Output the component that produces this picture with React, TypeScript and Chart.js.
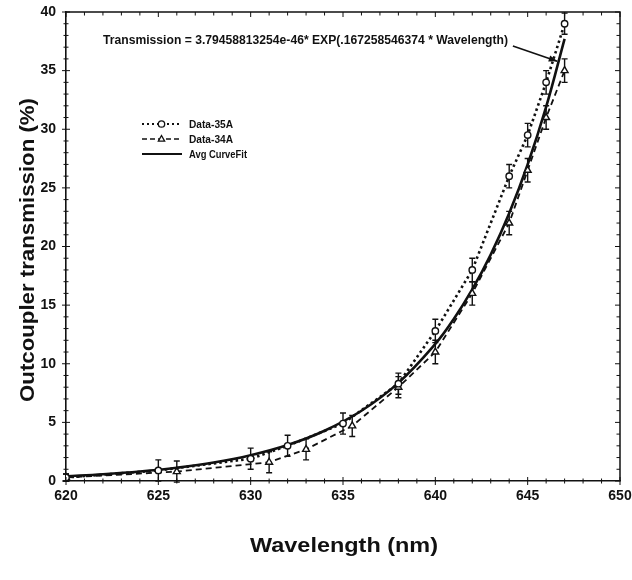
import React, { useEffect, useRef } from "react";
import { Chart, registerables } from "chart.js";
Chart.register(...registerables);

// Data-35A (circles, dotted)
const wl35 = [620, 625, 630, 632, 635, 638, 640, 642, 644, 645, 646, 647];
const val35 = [0.3, 0.9, 1.9, 3.0, 4.9, 8.3, 12.8, 18.0, 26.0, 29.5, 34.0, 39.0];
const err35 = [0.3, 0.9, 0.9, 0.9, 0.9, 0.9, 1.0, 1.0, 1.0, 1.0, 1.0, 0.9];
// Data-34A (triangles, dashed)
const wl34 = [620, 626, 631, 633, 635.5, 638, 640, 642, 644, 645, 646, 647];
const val34 = [0.3, 0.8, 1.6, 2.7, 4.7, 8.0, 11.0, 16.0, 22.0, 26.5, 31.0, 35.0];
const err34 = [0.3, 0.9, 0.9, 0.9, 0.9, 0.9, 1.0, 1.0, 1.0, 1.0, 1.0, 1.0];
// Avg CurveFit
const wlFit = [620, 622, 624, 626, 628, 630, 632, 634, 636, 638, 640, 641, 642, 643, 644, 645, 646, 647];
const valFit = [0.41, 0.58, 0.81, 1.13, 1.57, 2.2, 3.07, 4.29, 5.99, 8.37, 11.69, 13.82, 16.34, 19.31, 22.83, 26.99, 31.9, 37.71];

const xTicks = [620, 625, 630, 635, 640, 645, 650];
const yTicks = [0, 5, 10, 15, 20, 25, 30, 35, 40];

const seriesNames = ["Data-35A", "Data-34A", "Avg CurveFit"];
const equationText = "Transmission = 3.79458813254e-46* EXP(.167258546374 * Wavelength)";
const xTitle = "Wavelength (nm)";
const yTitle = "Outcoupler transmission (%)";

const FONT = "'Liberation Sans', Arial, sans-serif";

function fitText(ctx: CanvasRenderingContext2D, text: string, x: number, y: number, w: number) {
  const m = ctx.measureText(text).width;
  ctx.save();
  ctx.translate(x, y);
  ctx.scale(w / m, 1);
  ctx.textAlign = "left";
  ctx.fillText(text, 0, 0);
  ctx.restore();
}

function drawTriangle(ctx: CanvasRenderingContext2D, x: number, y: number, r: number) {
  ctx.beginPath();
  ctx.moveTo(x, y - r);
  ctx.lineTo(x + r * 0.9, y + r * 0.6);
  ctx.lineTo(x - r * 0.9, y + r * 0.6);
  ctx.closePath();
  ctx.fillStyle = "#fff";
  ctx.fill();
  ctx.stroke();
}

const extrasPlugin = {
  id: "extras",
  beforeDatasetsDraw(chart: any) {
    const ctx: CanvasRenderingContext2D = chart.ctx;
    const xs = chart.scales.x;
    const ys = chart.scales.y;
    ctx.save();
    ctx.strokeStyle = "#111";
    ctx.lineWidth = 1.4;
    const bars = (wl: number[], val: number[], err: number[]) => {
      wl.forEach((w, i) => {
        const px = xs.getPixelForValue(w);
        const y1 = ys.getPixelForValue(val[i] - err[i]);
        const y2 = ys.getPixelForValue(val[i] + err[i]);
        ctx.beginPath();
        ctx.moveTo(px, y1);
        ctx.lineTo(px, y2);
        ctx.moveTo(px - 3, y1);
        ctx.lineTo(px + 3, y1);
        ctx.moveTo(px - 3, y2);
        ctx.lineTo(px + 3, y2);
        ctx.stroke();
      });
    };
    bars(wl35, val35, err35);
    bars(wl34, val34, err34);
    ctx.restore();
  },
  afterDraw(chart: any) {
    const ctx: CanvasRenderingContext2D = chart.ctx;
    const xs = chart.scales.x;
    const ys = chart.scales.y;
    const a = chart.chartArea;
    ctx.save();
    ctx.strokeStyle = "#111";
    ctx.lineWidth = 1.5;
    // frame top/right
    ctx.beginPath();
    ctx.moveTo(a.left, a.top);
    ctx.lineTo(a.right, a.top);
    ctx.lineTo(a.right, a.bottom);
    ctx.stroke();
    // ticks
    ctx.lineWidth = 1;
    for (let w = 620; w <= 650; w++) {
      const px = xs.getPixelForValue(w);
      const len = w % 5 === 0 ? 4 : 2.5;
      ctx.beginPath();
      ctx.moveTo(px, a.bottom - len);
      ctx.lineTo(px, a.bottom + len);
      ctx.moveTo(px, a.top);
      ctx.lineTo(px, a.top + len + 1);
      ctx.stroke();
    }
    for (let v = 0; v <= 40; v++) {
      const py = ys.getPixelForValue(v);
      const len = v % 5 === 0 ? 4 : 2.5;
      ctx.beginPath();
      ctx.moveTo(a.left - len, py);
      ctx.lineTo(a.left + len, py);
      ctx.moveTo(a.right - len - 1, py);
      ctx.lineTo(a.right, py);
      ctx.stroke();
    }

    ctx.fillStyle = "#111";
    ctx.textBaseline = "middle";
    // axis titles
    ctx.font = `bold 21px ${FONT}`;
    fitText(ctx, xTitle, 250, 546, 188);
    ctx.save();
    ctx.translate(28, 402);
    ctx.rotate(-Math.PI / 2);
    fitText(ctx, yTitle, 0, 0, 304);
    ctx.restore();

    // equation annotation
    ctx.font = `bold 12px ${FONT}`;
    fitText(ctx, equationText, 103, 41, 405);
    const ax0 = xs.getPixelForValue(644.2);
    const ay0 = ys.getPixelForValue(37.1);
    const ax1 = xs.getPixelForValue(646.6);
    const ay1 = ys.getPixelForValue(35.8);
    ctx.lineWidth = 1.6;
    ctx.beginPath();
    ctx.moveTo(ax0, ay0);
    ctx.lineTo(ax1, ay1);
    ctx.stroke();
    const ang = Math.atan2(ay1 - ay0, ax1 - ax0);
    ctx.beginPath();
    ctx.moveTo(ax1, ay1);
    ctx.lineTo(ax1 - 9 * Math.cos(ang - 0.35), ay1 - 9 * Math.sin(ang - 0.35));
    ctx.lineTo(ax1 - 9 * Math.cos(ang + 0.35), ay1 - 9 * Math.sin(ang + 0.35));
    ctx.closePath();
    ctx.fill();

    // legend
    const lx0 = 142, lx1 = 181, tx = 189;
    const rows = [124, 139, 154];
    ctx.lineWidth = 2;
    ctx.setLineDash([2, 3]);
    ctx.beginPath();
    ctx.moveTo(lx0, rows[0]);
    ctx.lineTo(lx1, rows[0]);
    ctx.stroke();
    ctx.lineWidth = 1.6;
    ctx.setLineDash([5, 3]);
    ctx.beginPath();
    ctx.moveTo(lx0, rows[1]);
    ctx.lineTo(lx1, rows[1]);
    ctx.stroke();
    ctx.setLineDash([]);
    ctx.lineWidth = 2.2;
    ctx.beginPath();
    ctx.moveTo(lx0, rows[2]);
    ctx.lineTo(lx1 + 1, rows[2]);
    ctx.stroke();
    ctx.lineWidth = 1.3;
    ctx.beginPath();
    ctx.arc((lx0 + lx1) / 2, rows[0], 3.2, 0, Math.PI * 2);
    ctx.fillStyle = "#fff";
    ctx.fill();
    ctx.stroke();
    drawTriangle(ctx, (lx0 + lx1) / 2, rows[1], 3.5);
    ctx.fillStyle = "#111";
    ctx.font = `bold 11px ${FONT}`;
    fitText(ctx, seriesNames[0], tx, rows[0] + 1, 44);
    fitText(ctx, seriesNames[1], tx, rows[1] + 1, 44);
    fitText(ctx, seriesNames[2], tx, rows[2] + 1, 58);
    ctx.restore();
  },
};

export default function App() {
  const ref = useRef<HTMLCanvasElement | null>(null);
  useEffect(() => {
    document.body.style.margin = "0";
    const canvas = ref.current!;
    const chart = new Chart(canvas, {
      type: "line",
      data: {
        datasets: [
          {
            label: seriesNames[0],
            data: wl35.map((w, i) => ({ x: w, y: val35[i] })),
            borderColor: "#111",
            borderWidth: 2.6,
            borderDash: [2.5, 3],
            pointStyle: "circle",
            pointRadius: 3.2,
            pointBackgroundColor: "#fff",
            pointBorderColor: "#111",
            pointBorderWidth: 1.4,
            tension: 0,
          },
          {
            label: seriesNames[1],
            data: wl34.map((w, i) => ({ x: w, y: val34[i] })),
            borderColor: "#111",
            borderWidth: 1.8,
            borderDash: [6, 4],
            pointStyle: "triangle",
            pointRadius: 4,
            pointBackgroundColor: "#fff",
            pointBorderColor: "#111",
            pointBorderWidth: 1.4,
            tension: 0,
          },
          {
            label: seriesNames[2],
            data: wlFit.map((w, i) => ({ x: w, y: valFit[i] })),
            borderColor: "#111",
            borderWidth: 2.6,
            pointRadius: 0,
            tension: 0.4,
          },
        ],
      },
      options: {
        responsive: false,
        animation: false,
        layout: { padding: { top: 12, right: 12, left: 0, bottom: 0 } },
        plugins: { legend: { display: false }, tooltip: { enabled: false } },
        scales: {
          x: {
            type: "linear",
            min: 620,
            max: 650,
            afterFit: (s: any) => {
              s.height = 99;
              s.paddingLeft = 0;
              s.paddingRight = 0;
            },
            afterBuildTicks: (s: any) => {
              s.ticks = xTicks.map((v) => ({ value: v }));
            },
            grid: { display: false, drawTicks: false },
            border: { display: true, color: "#111", width: 1.6 },
            ticks: {
              color: "#111",
              padding: 7,
              maxRotation: 0,
              font: { family: FONT, weight: "bold", size: 14 },
            },
          },
          y: {
            type: "linear",
            min: 0,
            max: 40,
            afterFit: (s: any) => {
              s.width = 66;
              s.paddingTop = 0;
              s.paddingBottom = 0;
            },
            afterBuildTicks: (s: any) => {
              s.ticks = yTicks.map((v) => ({ value: v }));
            },
            grid: { display: false, drawTicks: false },
            border: { display: true, color: "#111", width: 1.6 },
            ticks: {
              color: "#111",
              padding: 10,
              font: { family: FONT, weight: "bold", size: 14 },
            },
          },
        },
      } as any,
      plugins: [extrasPlugin],
    });
    return () => chart.destroy();
  }, []);
  return (
    <div style={{ width: 632, height: 580, background: "#fff" }}>
      <canvas ref={ref} width={632} height={580} style={{ display: "block" }} />
    </div>
  );
}
